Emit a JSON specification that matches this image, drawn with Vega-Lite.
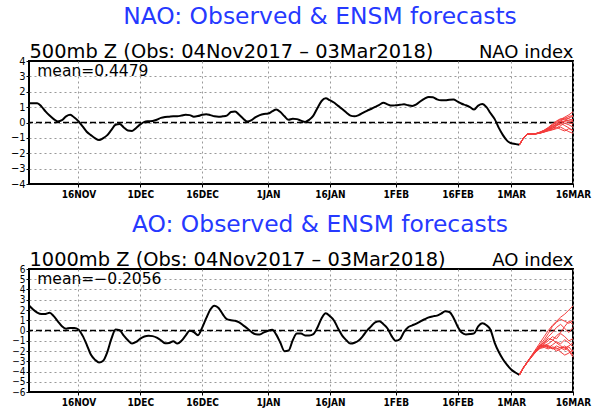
{
"$schema": "https://vega.github.io/schema/vega-lite/v6.json",
"background": "white",
"padding": {"left": 9, "top": 3, "right": 0, "bottom": 0},
"spacing": 11,
"config": {
  "font": "DejaVu Sans",
  "view": {"stroke": "#000", "strokeWidth": 2},
  "axis": {
    "labelColor": "#000", "tickColor": "#000", "tickSize": 3, "tickWidth": 1,
    "gridColor": "#999", "gridDash": [2, 3], "gridWidth": 1, "domain": false,
    "labelFont": "'Liberation Sans Narrow', 'DejaVu Sans Condensed', 'Liberation Sans', sans-serif",
    "titleFont": "DejaVu Sans", "titleFontWeight": "normal", "titleColor": "#000"
  },
  "title": {"font": "DejaVu Sans", "fontWeight": "normal", "color": "#2639ff", "fontSize": 23.4}
},
"datasets": {
"obs": [
{"date":"2017-11-04","nao":1.25,"ao":2.44},{"date":"2017-11-05","nao":1.26,"ao":2.05},{"date":"2017-11-06","nao":1.26,"ao":1.75},{"date":"2017-11-07","nao":1.05,"ao":1.60},{"date":"2017-11-08","nao":0.72,"ao":1.62},{"date":"2017-11-09","nao":0.45,"ao":1.72},{"date":"2017-11-10","nao":0.22,"ao":1.40},{"date":"2017-11-11","nao":0.07,"ao":0.90},{"date":"2017-11-12","nao":0.15,"ao":0.42},{"date":"2017-11-13","nao":0.40,"ao":0.18},
{"date":"2017-11-14","nao":0.50,"ao":0.24},{"date":"2017-11-15","nao":0.32,"ao":0.24},{"date":"2017-11-16","nao":0.08,"ao":0.10},{"date":"2017-11-17","nao":-0.25,"ao":-0.50},{"date":"2017-11-18","nao":-0.60,"ao":-1.37},{"date":"2017-11-19","nao":-0.82,"ao":-2.35},{"date":"2017-11-20","nao":-1.02,"ao":-2.85},{"date":"2017-11-21","nao":-1.14,"ao":-3.12},{"date":"2017-11-22","nao":-1.02,"ao":-2.95},{"date":"2017-11-23","nao":-0.82,"ao":-2.10},
{"date":"2017-11-24","nao":-0.48,"ao":-0.80},{"date":"2017-11-25","nao":-0.15,"ao":0.10},{"date":"2017-11-26","nao":-0.10,"ao":0.02},{"date":"2017-11-27","nao":-0.32,"ao":-0.50},{"date":"2017-11-28","nao":-0.52,"ao":-0.95},{"date":"2017-11-29","nao":-0.55,"ao":-1.28},{"date":"2017-11-30","nao":-0.36,"ao":-1.12},{"date":"2017-12-01","nao":-0.12,"ao":-0.80},{"date":"2017-12-02","nao":0.04,"ao":-0.58},{"date":"2017-12-03","nao":0.08,"ao":-0.50},
{"date":"2017-12-04","nao":0.10,"ao":-0.55},{"date":"2017-12-05","nao":0.18,"ao":-0.70},{"date":"2017-12-06","nao":0.30,"ao":-0.95},{"date":"2017-12-07","nao":0.36,"ao":-1.25},{"date":"2017-12-08","nao":0.38,"ao":-1.22},{"date":"2017-12-09","nao":0.40,"ao":-1.05},{"date":"2017-12-10","nao":0.40,"ao":-1.28},{"date":"2017-12-11","nao":0.45,"ao":-1.00},{"date":"2017-12-12","nao":0.50,"ao":-0.50},{"date":"2017-12-13","nao":0.48,"ao":-0.02},
{"date":"2017-12-14","nao":0.38,"ao":-0.16},{"date":"2017-12-15","nao":0.42,"ao":-0.46},{"date":"2017-12-16","nao":0.50,"ao":0.26},{"date":"2017-12-17","nao":0.54,"ao":1.20},{"date":"2017-12-18","nao":0.48,"ao":2.05},{"date":"2017-12-19","nao":0.40,"ao":2.42},{"date":"2017-12-20","nao":0.37,"ao":2.20},{"date":"2017-12-21","nao":0.40,"ao":1.60},{"date":"2017-12-22","nao":0.45,"ao":1.10},{"date":"2017-12-23","nao":0.68,"ao":1.00},
{"date":"2017-12-24","nao":0.72,"ao":0.95},{"date":"2017-12-25","nao":0.50,"ao":0.80},{"date":"2017-12-26","nao":0.25,"ao":0.50},{"date":"2017-12-27","nao":0.06,"ao":0.20},{"date":"2017-12-28","nao":0.15,"ao":-0.15},{"date":"2017-12-29","nao":0.35,"ao":-0.36},{"date":"2017-12-30","nao":0.48,"ao":-0.38},{"date":"2017-12-31","nao":0.55,"ao":-0.18},{"date":"2018-01-01","nao":0.58,"ao":-0.02},{"date":"2018-01-02","nao":0.72,"ao":0.08},
{"date":"2018-01-03","nao":0.85,"ao":-0.40},{"date":"2018-01-04","nao":0.68,"ao":-1.20},{"date":"2018-01-05","nao":0.40,"ao":-2.02},{"date":"2018-01-06","nao":0.18,"ao":-1.95},{"date":"2018-01-07","nao":0.25,"ao":-0.95},{"date":"2018-01-08","nao":0.22,"ao":-0.30},{"date":"2018-01-09","nao":0.12,"ao":-0.30},{"date":"2018-01-10","nao":0.04,"ao":-0.48},{"date":"2018-01-11","nao":0.18,"ao":-0.48},{"date":"2018-01-12","nao":0.45,"ao":-0.35},
{"date":"2018-01-13","nao":0.95,"ao":0.30},{"date":"2018-01-14","nao":1.40,"ao":1.20},{"date":"2018-01-15","nao":1.57,"ao":1.68},{"date":"2018-01-16","nao":1.45,"ao":1.40},{"date":"2018-01-17","nao":1.30,"ao":0.98},{"date":"2018-01-18","nao":1.08,"ao":0.20},{"date":"2018-01-19","nao":0.88,"ao":-0.50},{"date":"2018-01-20","nao":0.65,"ao":-0.95},{"date":"2018-01-21","nao":0.45,"ao":-1.28},{"date":"2018-01-22","nao":0.40,"ao":-1.20},
{"date":"2018-01-23","nao":0.48,"ao":-0.98},{"date":"2018-01-24","nao":0.62,"ao":-0.55},{"date":"2018-01-25","nao":0.76,"ao":-0.02},{"date":"2018-01-26","nao":0.88,"ao":0.40},{"date":"2018-01-27","nao":1.01,"ao":0.80},{"date":"2018-01-28","nao":1.15,"ao":0.90},{"date":"2018-01-29","nao":1.28,"ao":0.62},{"date":"2018-01-30","nao":1.18,"ao":0.20},{"date":"2018-01-31","nao":1.10,"ao":-0.55},{"date":"2018-02-01","nao":1.12,"ao":-1.00},
{"date":"2018-02-02","nao":1.15,"ao":-0.85},{"date":"2018-02-03","nao":1.18,"ao":-0.15},{"date":"2018-02-04","nao":1.12,"ao":0.32},{"date":"2018-02-05","nao":1.08,"ao":0.50},{"date":"2018-02-06","nao":1.18,"ao":0.68},{"date":"2018-02-07","nao":1.38,"ao":0.90},{"date":"2018-02-08","nao":1.55,"ao":1.10},{"date":"2018-02-09","nao":1.66,"ao":1.28},{"date":"2018-02-10","nao":1.64,"ao":1.38},{"date":"2018-02-11","nao":1.50,"ao":1.45},
{"date":"2018-02-12","nao":1.44,"ao":1.65},{"date":"2018-02-13","nao":1.44,"ao":1.88},{"date":"2018-02-14","nao":1.48,"ao":1.80},{"date":"2018-02-15","nao":1.50,"ao":1.25},{"date":"2018-02-16","nao":1.36,"ao":0.40},{"date":"2018-02-17","nao":1.22,"ao":-0.20},{"date":"2018-02-18","nao":1.12,"ao":-0.38},{"date":"2018-02-19","nao":1.00,"ao":-0.35},{"date":"2018-02-20","nao":0.84,"ao":-0.28},{"date":"2018-02-21","nao":1.10,"ao":0.40},
{"date":"2018-02-22","nao":1.20,"ao":0.70},{"date":"2018-02-23","nao":1.00,"ao":0.52},{"date":"2018-02-24","nao":0.60,"ao":0.05},{"date":"2018-02-25","nao":0.22,"ao":-1.20},{"date":"2018-02-26","nao":-0.35,"ao":-2.10},{"date":"2018-02-27","nao":-0.82,"ao":-2.80},{"date":"2018-02-28","nao":-1.18,"ao":-3.35},{"date":"2018-03-01","nao":-1.35,"ao":-3.80},{"date":"2018-03-02","nao":-1.40,"ao":-4.10},{"date":"2018-03-03","nao":-1.45,"ao":-4.33}
],
"fc": [
{"m":1,"date":"2018-03-03","nao":-1.45,"ao":-4.33},{"m":1,"date":"2018-03-04","nao":-1.00,"ao":-3.60},{"m":1,"date":"2018-03-05","nao":-0.76,"ao":-3.00},{"m":1,"date":"2018-03-06","nao":-0.76,"ao":-2.40},{"m":1,"date":"2018-03-07","nao":-0.72,"ao":-1.80},{"m":1,"date":"2018-03-08","nao":-0.62,"ao":-1.20},{"m":1,"date":"2018-03-09","nao":-0.50,"ao":-0.60},{"m":1,"date":"2018-03-10","nao":-0.35,"ao":0.00},{"m":1,"date":"2018-03-11","nao":-0.15,"ao":0.50},{"m":1,"date":"2018-03-12","nao":0.05,"ao":0.90},{"m":1,"date":"2018-03-13","nao":0.20,"ao":1.30},{"m":1,"date":"2018-03-14","nao":0.35,"ao":1.60},{"m":1,"date":"2018-03-15","nao":0.50,"ao":2.00},{"m":1,"date":"2018-03-16","nao":0.70,"ao":2.40},
{"m":2,"date":"2018-03-03","nao":-1.45,"ao":-4.33},{"m":2,"date":"2018-03-04","nao":-1.00,"ao":-3.62},{"m":2,"date":"2018-03-05","nao":-0.76,"ao":-3.05},{"m":2,"date":"2018-03-06","nao":-0.75,"ao":-2.45},{"m":2,"date":"2018-03-07","nao":-0.73,"ao":-1.90},{"m":2,"date":"2018-03-08","nao":-0.66,"ao":-1.40},{"m":2,"date":"2018-03-09","nao":-0.55,"ao":-0.90},{"m":2,"date":"2018-03-10","nao":-0.40,"ao":-0.30},{"m":2,"date":"2018-03-11","nao":-0.20,"ao":0.40},{"m":2,"date":"2018-03-12","nao":0.00,"ao":0.80},{"m":2,"date":"2018-03-13","nao":0.10,"ao":1.10},{"m":2,"date":"2018-03-14","nao":0.25,"ao":0.90},{"m":2,"date":"2018-03-15","nao":0.40,"ao":0.70},{"m":2,"date":"2018-03-16","nao":0.45,"ao":1.00},
{"m":3,"date":"2018-03-03","nao":-1.45,"ao":-4.33},{"m":3,"date":"2018-03-04","nao":-1.00,"ao":-3.58},{"m":3,"date":"2018-03-05","nao":-0.76,"ao":-3.02},{"m":3,"date":"2018-03-06","nao":-0.76,"ao":-2.50},{"m":3,"date":"2018-03-07","nao":-0.74,"ao":-2.00},{"m":3,"date":"2018-03-08","nao":-0.68,"ao":-1.50},{"m":3,"date":"2018-03-09","nao":-0.60,"ao":-1.10},{"m":3,"date":"2018-03-10","nao":-0.45,"ao":-0.60},{"m":3,"date":"2018-03-11","nao":-0.30,"ao":-0.20},{"m":3,"date":"2018-03-12","nao":-0.10,"ao":0.30},{"m":3,"date":"2018-03-13","nao":0.05,"ao":0.60},{"m":3,"date":"2018-03-14","nao":0.10,"ao":0.20},{"m":3,"date":"2018-03-15","nao":0.15,"ao":-0.20},{"m":3,"date":"2018-03-16","nao":0.20,"ao":0.30},
{"m":4,"date":"2018-03-03","nao":-1.45,"ao":-4.33},{"m":4,"date":"2018-03-04","nao":-1.00,"ao":-3.65},{"m":4,"date":"2018-03-05","nao":-0.76,"ao":-3.08},{"m":4,"date":"2018-03-06","nao":-0.75,"ao":-2.55},{"m":4,"date":"2018-03-07","nao":-0.72,"ao":-2.05},{"m":4,"date":"2018-03-08","nao":-0.64,"ao":-1.60},{"m":4,"date":"2018-03-09","nao":-0.52,"ao":-1.30},{"m":4,"date":"2018-03-10","nao":-0.38,"ao":-1.00},{"m":4,"date":"2018-03-11","nao":-0.25,"ao":-0.60},{"m":4,"date":"2018-03-12","nao":-0.10,"ao":-0.80},{"m":4,"date":"2018-03-13","nao":0.15,"ao":-0.30},{"m":4,"date":"2018-03-14","nao":0.30,"ao":-0.60},{"m":4,"date":"2018-03-15","nao":0.25,"ao":-1.00},{"m":4,"date":"2018-03-16","nao":0.10,"ao":-0.80},
{"m":5,"date":"2018-03-03","nao":-1.45,"ao":-4.33},{"m":5,"date":"2018-03-04","nao":-1.00,"ao":-3.60},{"m":5,"date":"2018-03-05","nao":-0.76,"ao":-3.04},{"m":5,"date":"2018-03-06","nao":-0.76,"ao":-2.52},{"m":5,"date":"2018-03-07","nao":-0.73,"ao":-2.00},{"m":5,"date":"2018-03-08","nao":-0.67,"ao":-1.55},{"m":5,"date":"2018-03-09","nao":-0.58,"ao":-1.50},{"m":5,"date":"2018-03-10","nao":-0.50,"ao":-1.70},{"m":5,"date":"2018-03-11","nao":-0.40,"ao":-1.40},{"m":5,"date":"2018-03-12","nao":-0.20,"ao":-1.10},{"m":5,"date":"2018-03-13","nao":-0.05,"ao":-1.30},{"m":5,"date":"2018-03-14","nao":0.05,"ao":-0.90},{"m":5,"date":"2018-03-15","nao":0.00,"ao":-1.20},{"m":5,"date":"2018-03-16","nao":-0.10,"ao":-1.60},
{"m":6,"date":"2018-03-03","nao":-1.45,"ao":-4.33},{"m":6,"date":"2018-03-04","nao":-1.00,"ao":-3.63},{"m":6,"date":"2018-03-05","nao":-0.76,"ao":-3.06},{"m":6,"date":"2018-03-06","nao":-0.75,"ao":-2.48},{"m":6,"date":"2018-03-07","nao":-0.74,"ao":-1.95},{"m":6,"date":"2018-03-08","nao":-0.70,"ao":-1.50},{"m":6,"date":"2018-03-09","nao":-0.62,"ao":-1.40},{"m":6,"date":"2018-03-10","nao":-0.52,"ao":-1.60},{"m":6,"date":"2018-03-11","nao":-0.45,"ao":-1.80},{"m":6,"date":"2018-03-12","nao":-0.35,"ao":-1.50},{"m":6,"date":"2018-03-13","nao":-0.20,"ao":-1.70},{"m":6,"date":"2018-03-14","nao":-0.05,"ao":-1.90},{"m":6,"date":"2018-03-15","nao":-0.15,"ao":-1.60},{"m":6,"date":"2018-03-16","nao":-0.30,"ao":-2.10},
{"m":7,"date":"2018-03-03","nao":-1.45,"ao":-4.33},{"m":7,"date":"2018-03-04","nao":-1.00,"ao":-3.61},{"m":7,"date":"2018-03-05","nao":-0.76,"ao":-3.03},{"m":7,"date":"2018-03-06","nao":-0.76,"ao":-2.53},{"m":7,"date":"2018-03-07","nao":-0.72,"ao":-2.08},{"m":7,"date":"2018-03-08","nao":-0.65,"ao":-1.70},{"m":7,"date":"2018-03-09","nao":-0.56,"ao":-1.55},{"m":7,"date":"2018-03-10","nao":-0.45,"ao":-1.45},{"m":7,"date":"2018-03-11","nao":-0.35,"ao":-1.70},{"m":7,"date":"2018-03-12","nao":-0.30,"ao":-2.00},{"m":7,"date":"2018-03-13","nao":-0.45,"ao":-1.80},{"m":7,"date":"2018-03-14","nao":-0.55,"ao":-1.50},{"m":7,"date":"2018-03-15","nao":-0.40,"ao":-1.90},{"m":7,"date":"2018-03-16","nao":-0.50,"ao":-2.40},
{"m":8,"date":"2018-03-03","nao":-1.45,"ao":-4.33},{"m":8,"date":"2018-03-04","nao":-1.00,"ao":-3.64},{"m":8,"date":"2018-03-05","nao":-0.76,"ao":-3.07},{"m":8,"date":"2018-03-06","nao":-0.75,"ao":-2.56},{"m":8,"date":"2018-03-07","nao":-0.73,"ao":-2.10},{"m":8,"date":"2018-03-08","nao":-0.68,"ao":-1.75},{"m":8,"date":"2018-03-09","nao":-0.62,"ao":-1.65},{"m":8,"date":"2018-03-10","nao":-0.55,"ao":-1.80},{"m":8,"date":"2018-03-11","nao":-0.48,"ao":-1.60},{"m":8,"date":"2018-03-12","nao":-0.40,"ao":-1.70},{"m":8,"date":"2018-03-13","nao":-0.30,"ao":-2.10},{"m":8,"date":"2018-03-14","nao":-0.45,"ao":-2.40},{"m":8,"date":"2018-03-15","nao":-0.60,"ao":-2.20},{"m":8,"date":"2018-03-16","nao":-0.70,"ao":-1.90},
{"m":9,"date":"2018-03-03","nao":-1.45,"ao":-4.33},{"m":9,"date":"2018-03-04","nao":-1.00,"ao":-3.59},{"m":9,"date":"2018-03-05","nao":-0.76,"ao":-3.01},{"m":9,"date":"2018-03-06","nao":-0.76,"ao":-2.46},{"m":9,"date":"2018-03-07","nao":-0.72,"ao":-1.92},{"m":9,"date":"2018-03-08","nao":-0.63,"ao":-1.45},{"m":9,"date":"2018-03-09","nao":-0.50,"ao":-1.20},{"m":9,"date":"2018-03-10","nao":-0.32,"ao":-0.80},{"m":9,"date":"2018-03-11","nao":-0.10,"ao":-0.90},{"m":9,"date":"2018-03-12","nao":0.10,"ao":-1.20},{"m":9,"date":"2018-03-13","nao":0.25,"ao":-1.50},{"m":9,"date":"2018-03-14","nao":0.20,"ao":-1.70},{"m":9,"date":"2018-03-15","nao":0.10,"ao":-1.50},{"m":9,"date":"2018-03-16","nao":0.05,"ao":-1.20},
{"m":10,"date":"2018-03-03","nao":-1.45,"ao":-4.33},{"m":10,"date":"2018-03-04","nao":-1.00,"ao":-3.62},{"m":10,"date":"2018-03-05","nao":-0.76,"ao":-3.05},{"m":10,"date":"2018-03-06","nao":-0.75,"ao":-2.50},{"m":10,"date":"2018-03-07","nao":-0.74,"ao":-2.02},{"m":10,"date":"2018-03-08","nao":-0.69,"ao":-1.62},{"m":10,"date":"2018-03-09","nao":-0.60,"ao":-1.45},{"m":10,"date":"2018-03-10","nao":-0.48,"ao":-1.30},{"m":10,"date":"2018-03-11","nao":-0.38,"ao":-1.00},{"m":10,"date":"2018-03-12","nao":-0.20,"ao":-0.50},{"m":10,"date":"2018-03-13","nao":-0.10,"ao":-0.20},{"m":10,"date":"2018-03-14","nao":0.10,"ao":0.40},{"m":10,"date":"2018-03-15","nao":0.30,"ao":0.90},{"m":10,"date":"2018-03-16","nao":0.40,"ao":0.60},
{"m":11,"date":"2018-03-03","nao":-1.45,"ao":-4.33},{"m":11,"date":"2018-03-04","nao":-1.00,"ao":-3.60},{"m":11,"date":"2018-03-05","nao":-0.76,"ao":-3.04},{"m":11,"date":"2018-03-06","nao":-0.75,"ao":-2.49},{"m":11,"date":"2018-03-07","nao":-0.73,"ao":-1.98},{"m":11,"date":"2018-03-08","nao":-0.66,"ao":-1.58},{"m":11,"date":"2018-03-09","nao":-0.56,"ao":-1.50},{"m":11,"date":"2018-03-10","nao":-0.42,"ao":-1.55},{"m":11,"date":"2018-03-11","nao":-0.28,"ao":-1.75},{"m":11,"date":"2018-03-12","nao":-0.15,"ao":-1.80},{"m":11,"date":"2018-03-13","nao":-0.05,"ao":-1.65},{"m":11,"date":"2018-03-14","nao":-0.20,"ao":-1.70},{"m":11,"date":"2018-03-15","nao":-0.35,"ao":-2.00},{"m":11,"date":"2018-03-16","nao":-0.55,"ao":-2.60}
]
},
"vconcat": [
{
  "width": 544, "height": 123,
  "title": {"text": "NAO: Observed & ENSM forecasts", "anchor": "middle", "frame": "group", "dx": 19, "baseline": "alphabetic", "offset": -6},
  "resolve": {"axis": {"x": "independent", "y": "independent"}},
  "layer": [
    {"data": {"name": "obs"},
     "mark": {"type": "line", "color": "#000", "strokeWidth": 2, "interpolate": "monotone"},
     "encoding": {
       "x": {"field": "date", "type": "temporal",
             "scale": {"type": "utc", "domain": [{"year": 2017, "month": 11, "date": 4, "utc": true}, {"year": 2018, "month": 3, "date": 16, "utc": true}]},
             "axis": {"orient": "bottom", "title": null, "grid": true, "labelFlush": false, "labelOverlap": false,
                      "values": [{"year":2017,"month":11,"date":16,"utc":true},{"year":2017,"month":12,"date":1,"utc":true},{"year":2017,"month":12,"date":16,"utc":true},{"year":2018,"month":1,"date":1,"utc":true},{"year":2018,"month":1,"date":16,"utc":true},{"year":2018,"month":2,"date":1,"utc":true},{"year":2018,"month":2,"date":16,"utc":true},{"year":2018,"month":3,"date":1,"utc":true},{"year":2018,"month":3,"date":16,"utc":true}],
                      "labelExpr": "upper(utcFormat(datum.value, '%-d%b'))", "labelFontSize": 10, "labelFontWeight": "bold", "labelPadding": 2}},
       "y": {"field": "nao", "type": "quantitative", "scale": {"domain": [-4, 4], "nice": false},
             "axis": {"orient": "left", "values": [-4, -3, -2, -1, 0, 1, 2, 3, 4], "grid": true,
                      "gridOpacity": {"condition": {"test": "abs(datum.value) == 4", "value": 0}, "value": 1},
                      "labelFontSize": 11, "labelPadding": 1, "labelOverlap": false,
                      "title": "500mb Z (Obs: 04Nov2017 – 03Mar2018)", "titleAngle": 0, "titleAlign": "left", "titleBaseline": "alphabetic",
                      "titleX": 0, "titleY": -4, "titleFontSize": 19.4}}
     }},
    {"data": {"values": [{"ref": 0}]},
     "mark": {"type": "rule", "color": "#000", "strokeWidth": 1.3, "strokeDash": [6, 3]},
     "encoding": {"y": {"field": "ref", "type": "quantitative", "axis": null}}},
    {"data": {"name": "fc"},
     "mark": {"type": "line", "color": "#f43c3c", "strokeWidth": 1},
     "encoding": {
       "x": {"field": "date", "type": "temporal",
             "axis": {"orient": "top", "labels": false, "ticks": false, "grid": false, "domain": false,
                      "title": "NAO index", "titleAnchor": "end", "titleAlign": "right", "titleBaseline": "alphabetic",
                      "titleX": 544, "titleY": -4, "titleFontSize": 18}},
       "y": {"field": "nao", "type": "quantitative", "axis": null},
       "detail": {"field": "m", "type": "nominal"}
     }},
    {"data": {"values": [{"label": "mean=0.4479"}]},
     "mark": {"type": "text", "align": "left", "baseline": "middle", "fontSize": 15.5, "font": "DejaVu Sans", "color": "#000"},
     "encoding": {
       "x": {"datum": {"year": 2017, "month": 11, "date": 6, "utc": true}, "type": "temporal", "axis": null},
       "y": {"datum": 3.32, "type": "quantitative", "axis": null},
       "text": {"field": "label"}
     }}
  ]
},
{
  "width": 544, "height": 123,
  "title": {"text": "AO: Observed & ENSM forecasts", "anchor": "middle", "frame": "group", "dx": 19, "baseline": "alphabetic", "offset": -6},
  "resolve": {"axis": {"x": "independent", "y": "independent"}},
  "layer": [
    {"data": {"name": "obs"},
     "mark": {"type": "line", "color": "#000", "strokeWidth": 2, "interpolate": "monotone"},
     "encoding": {
       "x": {"field": "date", "type": "temporal",
             "scale": {"type": "utc", "domain": [{"year": 2017, "month": 11, "date": 4, "utc": true}, {"year": 2018, "month": 3, "date": 16, "utc": true}]},
             "axis": {"orient": "bottom", "title": null, "grid": true, "labelFlush": false, "labelOverlap": false,
                      "values": [{"year":2017,"month":11,"date":16,"utc":true},{"year":2017,"month":12,"date":1,"utc":true},{"year":2017,"month":12,"date":16,"utc":true},{"year":2018,"month":1,"date":1,"utc":true},{"year":2018,"month":1,"date":16,"utc":true},{"year":2018,"month":2,"date":1,"utc":true},{"year":2018,"month":2,"date":16,"utc":true},{"year":2018,"month":3,"date":1,"utc":true},{"year":2018,"month":3,"date":16,"utc":true}],
                      "labelExpr": "upper(utcFormat(datum.value, '%-d%b'))", "labelFontSize": 10, "labelFontWeight": "bold", "labelPadding": 2}},
       "y": {"field": "ao", "type": "quantitative", "scale": {"domain": [-6, 6], "nice": false},
             "axis": {"orient": "left", "values": [-6, -5, -4, -3, -2, -1, 0, 1, 2, 3, 4, 5, 6], "grid": true,
                      "gridOpacity": {"condition": {"test": "abs(datum.value) == 6", "value": 0}, "value": 1},
                      "labelFontSize": 10, "labelPadding": 1, "labelOverlap": false,
                      "title": "1000mb Z (Obs: 04Nov2017 – 03Mar2018)", "titleAngle": 0, "titleAlign": "left", "titleBaseline": "alphabetic",
                      "titleX": 0, "titleY": -4, "titleFontSize": 19.4}}
     }},
    {"data": {"values": [{"ref": 0}]},
     "mark": {"type": "rule", "color": "#000", "strokeWidth": 1.3, "strokeDash": [6, 3]},
     "encoding": {"y": {"field": "ref", "type": "quantitative", "axis": null}}},
    {"data": {"name": "fc"},
     "mark": {"type": "line", "color": "#f43c3c", "strokeWidth": 1},
     "encoding": {
       "x": {"field": "date", "type": "temporal",
             "axis": {"orient": "top", "labels": false, "ticks": false, "grid": false, "domain": false,
                      "title": "AO index", "titleAnchor": "end", "titleAlign": "right", "titleBaseline": "alphabetic",
                      "titleX": 544, "titleY": -4, "titleFontSize": 18}},
       "y": {"field": "ao", "type": "quantitative", "axis": null},
       "detail": {"field": "m", "type": "nominal"}
     }},
    {"data": {"values": [{"label": "mean=−0.2056"}]},
     "mark": {"type": "text", "align": "left", "baseline": "middle", "fontSize": 15.5, "font": "DejaVu Sans", "color": "#000"},
     "encoding": {
       "x": {"datum": {"year": 2017, "month": 11, "date": 6, "utc": true}, "type": "temporal", "axis": null},
       "y": {"datum": 4.98, "type": "quantitative", "axis": null},
       "text": {"field": "label"}
     }}
  ]
}
]
}
